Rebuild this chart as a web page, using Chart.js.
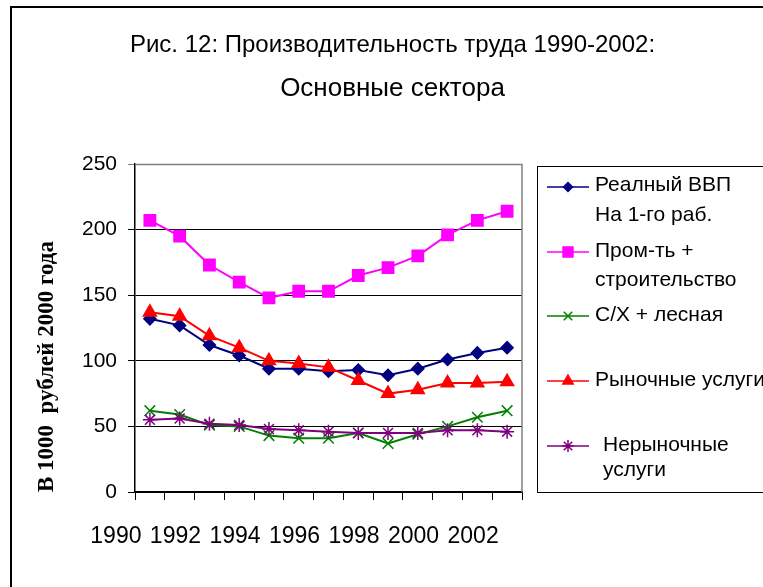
<!DOCTYPE html>
<html>
<head>
<meta charset="utf-8">
<script src="https://cdn.jsdelivr.net/npm/chart.js@4.4.1/dist/chart.umd.min.js"></script>
<style>
  body { margin: 0; background: #fff; }
</style>
</head>
<body>
<canvas id="chart" width="763" height="587"></canvas>
<script>
// data
const years = ["1990", "1991", "1992", "1993", "1994", "1995", "1996",
               "1997", "1998", "1999", "2000", "2001", "2002"];
const xTickLabels = ["1990", "1992", "1994", "1996", "1998", "2000", "2002"];
const yTicks = [0, 50, 100, 150, 200, 250];

const gdp       = [132, 127, 112, 104, 94, 94, 92, 93, 89, 94, 101, 106, 110];
const industry  = [207, 195, 173, 160, 148, 153, 153, 165, 171, 180, 196, 207, 214];
const agri      = [62, 59, 51, 50, 43, 41, 41, 45, 37, 44, 50, 57, 62];
const market    = [137, 134, 119, 110, 100, 98, 95, 85, 75, 78, 83, 83, 84];
const nonmarket = [55, 56, 52, 51, 48, 47, 46, 45, 45, 45, 47, 47, 46];

const seriesNames = [
    ["Реалный ВВП", "На 1-го раб."],
    ["Пром-ть +", "строительство"],
    ["С/Х + лесная"],
    ["Рыночные услуги"],
    ["Нерыночные", "услуги"]
];

const FONT = "'Liberation Sans', Arial, sans-serif";
Chart.defaults.font.family = FONT;
Chart.defaults.color = "#000";

const mkSet = (i, data, color, style, radius, legendRadius) => ({
    label: seriesNames[i].join(" "),
    data: data,
    borderColor: color,
    backgroundColor: color,
    pointBackgroundColor: color,
    pointBorderColor: color,
    pointStyle: style,
    pointRadius: radius,
    pointBorderWidth: 1.5,
    borderWidth: 2,
    tension: 0,
    order: 5 - i,
    legendRadius: legendRadius,
});

const datasets = [
    mkSet(0, gdp, "#000080", "rectRot", 6, 4.5),
    mkSet(1, industry, "#FF00FF", "rect", 8, 7),
    mkSet(2, agri, "#008000", "crossRot", 7.5, 6),
    mkSet(3, market, "#FF0000", "triangle", 7.5, 6),
    mkSet(4, nonmarket, "#800080", "star", 7, 6),
];

// legend rows: y of the sample line and of each text line
const legendRows = [
    { y: 187, text: [185, 215], x: 595 },
    { y: 252, text: [251, 280], x: 595 },
    { y: 316, text: [315], x: 595 },
    { y: 381, text: [380], x: 595 },
    { y: 446, text: [445, 470], x: 603 },
];

const framePlugin = {
    id: "frame",
    beforeDatasetsDraw(chart) {
        const { ctx, chartArea: a } = chart;
        ctx.save();
        ctx.strokeStyle = "#808080";
        ctx.lineWidth = 1.5;
        ctx.beginPath();
        ctx.moveTo(a.left, a.top + 0.5);
        ctx.lineTo(a.right, a.top + 0.5);
        ctx.lineTo(a.right, a.bottom);
        ctx.stroke();
        ctx.restore();
    },
    afterDraw(chart) {
        const ctx = chart.ctx;
        ctx.save();
        // outer border (top and left only are visible)
        ctx.strokeStyle = "#000";
        ctx.lineWidth = 2;
        ctx.beginPath();
        ctx.moveTo(11, 587);
        ctx.lineTo(11, 7);
        ctx.lineTo(763, 7);
        ctx.stroke();

        // legend
        ctx.lineWidth = 1;
        ctx.strokeStyle = "#000";
        ctx.strokeRect(537.5, 166.5, 240, 326);
        ctx.font = "21px " + FONT;
        ctx.textBaseline = "middle";
        ctx.textAlign = "left";
        chart.data.datasets.forEach((ds, i) => {
            const row = legendRows[i];
            ctx.strokeStyle = ds.borderColor;
            ctx.fillStyle = ds.borderColor;
            ctx.lineWidth = 1.5;
            ctx.beginPath();
            ctx.moveTo(547, row.y);
            ctx.lineTo(589, row.y);
            ctx.stroke();
            if (Chart.helpers && Chart.helpers.drawPoint) {
                Chart.helpers.drawPoint(ctx, {
                    pointStyle: ds.pointStyle,
                    radius: ds.legendRadius,
                    rotation: 0,
                    borderWidth: 1.5
                }, 568, row.y);
            }
            ctx.fillStyle = "#000";
            seriesNames[i].forEach((t, j) => {
                ctx.fillText(t, row.x, row.text[j]);
            });
        });
        ctx.restore();
    }
};

new Chart(document.getElementById("chart"), {
    type: "line",
    data: { labels: years, datasets: datasets },
    plugins: [framePlugin],
    options: {
        responsive: false,
        animation: false,
        layout: { padding: { left: 22, right: 0, top: 0, bottom: 0 } },
        plugins: {
            legend: { display: false },
            tooltip: { enabled: false },
            title: {
                display: true,
                text: "Рис. 12: Производительность труда 1990-2002:",
                font: { size: 24, weight: "normal" },
                color: "#000",
                padding: { top: 31, bottom: 0 }
            },
            subtitle: {
                display: true,
                text: "Основные сектора",
                font: { size: 26, weight: "normal" },
                color: "#000",
                padding: { top: 13.6, bottom: 59.4 }
            }
        },
        scales: {
            x: {
                type: "category",
                offset: true,
                grid: {
                    offset: true,
                    drawOnChartArea: false,
                    color: "#000",
                    tickLength: 8
                },
                border: { color: "#000", width: 1.5 },
                ticks: {
                    autoSkip: false,
                    maxRotation: 0,
                    minRotation: 0,
                    labelOffset: -34,
                    padding: 23,
                    font: { size: 23 },
                    callback: (v, i) => (i % 2 === 0 ? xTickLabels[i / 2] : "")
                },
                afterFit: (s) => { s.height = 95; }
            },
            y: {
                min: 0,
                max: 250,
                afterBuildTicks: (s) => { s.ticks = yTicks.map(v => ({ value: v })); },
                grid: {
                    color: (c) => (c.tick && c.tick.value === 250 ? "#808080" : "#000"),
                    tickLength: 7,
                    lineWidth: 1
                },
                border: { color: "#000", width: 1.5 },
                ticks: {
                    padding: 11,
                    font: { size: 21 }
                },
                title: {
                    display: true,
                    text: "В 1000  рублей 2000 года",
                    align: "start",
                    font: { family: "'Liberation Serif', 'Times New Roman', serif", size: 23, weight: "bold" },
                    color: "#000",
                    padding: { top: 11, bottom: 0 }
                },
                afterFit: (s) => { s.width = 113; }
            },
            y2: {
                position: "right",
                display: true,
                grid: { display: false },
                border: { display: false },
                ticks: { display: false },
                afterFit: (s) => { s.width = 241; }
            }
        }
    }
});
</script>
</body>
</html>
